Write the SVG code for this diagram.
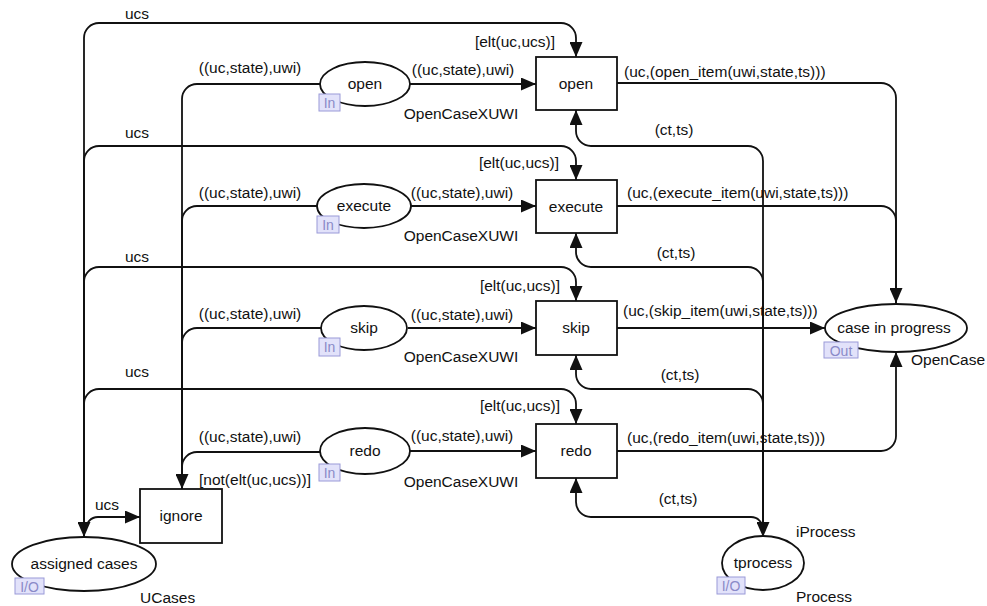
<svg xmlns="http://www.w3.org/2000/svg" width="987" height="606" viewBox="0 0 987 606">
<style>
text{font-family:"Liberation Sans",Arial,sans-serif;font-size:15.5px;fill:#111}
.n{text-anchor:middle}
.e{text-anchor:end}
.arc{fill:none;stroke:#111;stroke-width:1.8}
.node{fill:#fff;stroke:#111;stroke-width:1.8}
.tag{fill:#e2e2fa;stroke:#9a9ad8;stroke-width:1}
.tagt{font-size:14px;fill:#8a8ac8}
</style>
<defs>
<marker id="ah" markerUnits="userSpaceOnUse" markerWidth="15" markerHeight="13" refX="15" refY="6.5" orient="auto-start-reverse">
<path d="M0,0 L15,6.5 L0,13 z" fill="#111"/>
</marker>
</defs>
<rect width="987" height="606" fill="#fff"/>
<g id="connectors">
<path class="arc" marker-start="url(#ah)" marker-end="url(#ah)" d="M84,537 V38 A15,15 0 0 1 99,23 H561 A15,15 0 0 1 576,38 V57"/>
<path class="arc" marker-end="url(#ah)" d="M84,537 V161 A15,15 0 0 1 99,146 H561 A15,15 0 0 1 576,161 V180"/>
<path class="arc" marker-end="url(#ah)" d="M84,537 V282 A15,15 0 0 1 99,267 H561 A15,15 0 0 1 576,282 V301"/>
<path class="arc" marker-end="url(#ah)" d="M84,537 V404 A15,15 0 0 1 99,389 H561 A15,15 0 0 1 576,404 V424"/>
<path class="arc" marker-end="url(#ah)" d="M86,530 A12,12 0 0 1 98,517 H140"/>
<path class="arc" marker-end="url(#ah)" d="M409,84 H536"/>
<path class="arc" marker-end="url(#ah)" d="M411,206 H536"/>
<path class="arc" marker-end="url(#ah)" d="M408,328 H536"/>
<path class="arc" marker-end="url(#ah)" d="M410,451 H536"/>
<path class="arc" marker-end="url(#ah)" d="M320,84 H197 A15,15 0 0 0 182,99 V489"/>
<path class="arc" d="M317,206 H197 A15,15 0 0 0 182,221 V489"/>
<path class="arc" d="M321,328 H197 A15,15 0 0 0 182,343 V489"/>
<path class="arc" d="M320,452 H197 A15,15 0 0 0 182,467 V489"/>
<path class="arc" marker-end="url(#ah)" d="M617,83 H881 A15,15 0 0 1 896,98 V303"/>
<path class="arc" d="M617,206 H881 A15,15 0 0 1 896,221 V303"/>
<path class="arc" marker-end="url(#ah)" d="M617,328 H825"/>
<path class="arc" marker-end="url(#ah)" d="M617,451 H881 A15,15 0 0 0 896,436 V352"/>
<path class="arc" marker-start="url(#ah)" marker-end="url(#ah)" d="M763,537 V161 A15,15 0 0 0 748,146 H591 A15,15 0 0 1 576,131 V110"/>
<path class="arc" marker-end="url(#ah)" d="M763,537 V282 A15,15 0 0 0 748,267 H591 A15,15 0 0 1 576,252 V233"/>
<path class="arc" marker-end="url(#ah)" d="M763,537 V404 A15,15 0 0 0 748,389 H591 A15,15 0 0 1 576,374 V355"/>
<path class="arc" marker-end="url(#ah)" d="M763,537 V529 A12,12 0 0 0 751,517 H591 A15,15 0 0 1 576,502 V478"/>
</g>
<g id="labels">
<text class="n" x="137" y="19">ucs</text>
<text class="n" x="137" y="138">ucs</text>
<text class="n" x="137" y="262">ucs</text>
<text class="n" x="137" y="377">ucs</text>
<text class="n" x="107" y="510">ucs</text>
<text class="e" x="555" y="47">[elt(uc,ucs)]</text>
<text class="e" x="559" y="168">[elt(uc,ucs)]</text>
<text class="e" x="560" y="291">[elt(uc,ucs)]</text>
<text class="e" x="560" y="411">[elt(uc,ucs)]</text>
<text class="n" x="463" y="75">((uc,state),uwi)</text>
<text class="n" x="462" y="198">((uc,state),uwi)</text>
<text class="n" x="462" y="320">((uc,state),uwi)</text>
<text class="n" x="462" y="441">((uc,state),uwi)</text>
<text class="n" x="250" y="73">((uc,state),uwi)</text>
<text class="n" x="250" y="198">((uc,state),uwi)</text>
<text class="n" x="250" y="319">((uc,state),uwi)</text>
<text class="n" x="250" y="442">((uc,state),uwi)</text>
<text class="n" x="255" y="485">[not(elt(uc,ucs))]</text>
<text x="624" y="77">(uc,(open_item(uwi,state,ts)))</text>
<text x="627" y="198">(uc,(execute_item(uwi,state,ts)))</text>
<text x="623" y="316">(uc,(skip_item(uwi,state,ts)))</text>
<text x="627" y="443">(uc,(redo_item(uwi,state,ts)))</text>
<text class="n" x="674" y="135">(ct,ts)</text>
<text class="n" x="676" y="258">(ct,ts)</text>
<text class="n" x="680" y="380">(ct,ts)</text>
<text class="n" x="678" y="504">(ct,ts)</text>
</g>
<g id="t_open"><rect class="node" x="536" y="57" width="81" height="53"/><text class="n" x="576" y="89">open</text></g>
<g id="t_execute"><rect class="node" x="536" y="180" width="81" height="53"/><text class="n" x="576" y="212">execute</text></g>
<g id="t_skip"><rect class="node" x="536" y="301" width="81" height="54"/><text class="n" x="576" y="333">skip</text></g>
<g id="t_redo"><rect class="node" x="536" y="424" width="81" height="54"/><text class="n" x="576" y="456">redo</text></g>
<g id="t_ignore"><rect class="node" x="140" y="489" width="82" height="54"/><text class="n" x="181" y="521">ignore</text></g>
<g id="p_open"><ellipse class="node" cx="365" cy="84" rx="45" ry="22"/><text class="n" x="365" y="89">open</text><rect class="tag" x="319" y="94" width="21" height="17"/><text class="tagt n" x="329.5" y="108">In</text><text class="n" x="461" y="119">OpenCaseXUWI</text></g>
<g id="p_execute"><ellipse class="node" cx="364" cy="206" rx="47" ry="22"/><text class="n" x="364" y="211">execute</text><rect class="tag" x="317" y="216" width="22" height="17"/><text class="tagt n" x="328" y="230">In</text><text class="n" x="461" y="241">OpenCaseXUWI</text></g>
<g id="p_skip"><ellipse class="node" cx="364" cy="328" rx="43" ry="22"/><text class="n" x="364" y="333">skip</text><rect class="tag" x="319" y="338" width="21" height="18"/><text class="tagt n" x="329.5" y="352">In</text><text class="n" x="461" y="362">OpenCaseXUWI</text></g>
<g id="p_redo"><ellipse class="node" cx="365" cy="451" rx="45" ry="23"/><text class="n" x="365" y="456">redo</text><rect class="tag" x="319" y="464" width="21" height="17"/><text class="tagt n" x="329.5" y="478">In</text><text class="n" x="461" y="487">OpenCaseXUWI</text></g>
<g id="p_case"><ellipse class="node" cx="896" cy="328" rx="71" ry="24"/><text class="n" x="894" y="333">case in progress</text><rect class="tag" x="824" y="342" width="34" height="16"/><text class="tagt n" x="841" y="356">Out</text><text x="911" y="365">OpenCase</text></g>
<g id="p_assigned"><ellipse class="node" cx="84" cy="564" rx="72" ry="27"/><text class="n" x="84" y="569">assigned cases</text><rect class="tag" x="15" y="578" width="29" height="16"/><text class="tagt n" x="29.5" y="592">I/O</text><text x="140" y="603">UCases</text></g>
<g id="p_tprocess"><ellipse class="node" cx="763" cy="563" rx="41" ry="27"/><text class="n" x="763" y="568">tprocess</text><rect class="tag" x="717" y="577" width="28" height="17"/><text class="tagt n" x="731" y="591">I/O</text><text x="796" y="537">iProcess</text><text x="796" y="602">Process</text></g>
</svg>
